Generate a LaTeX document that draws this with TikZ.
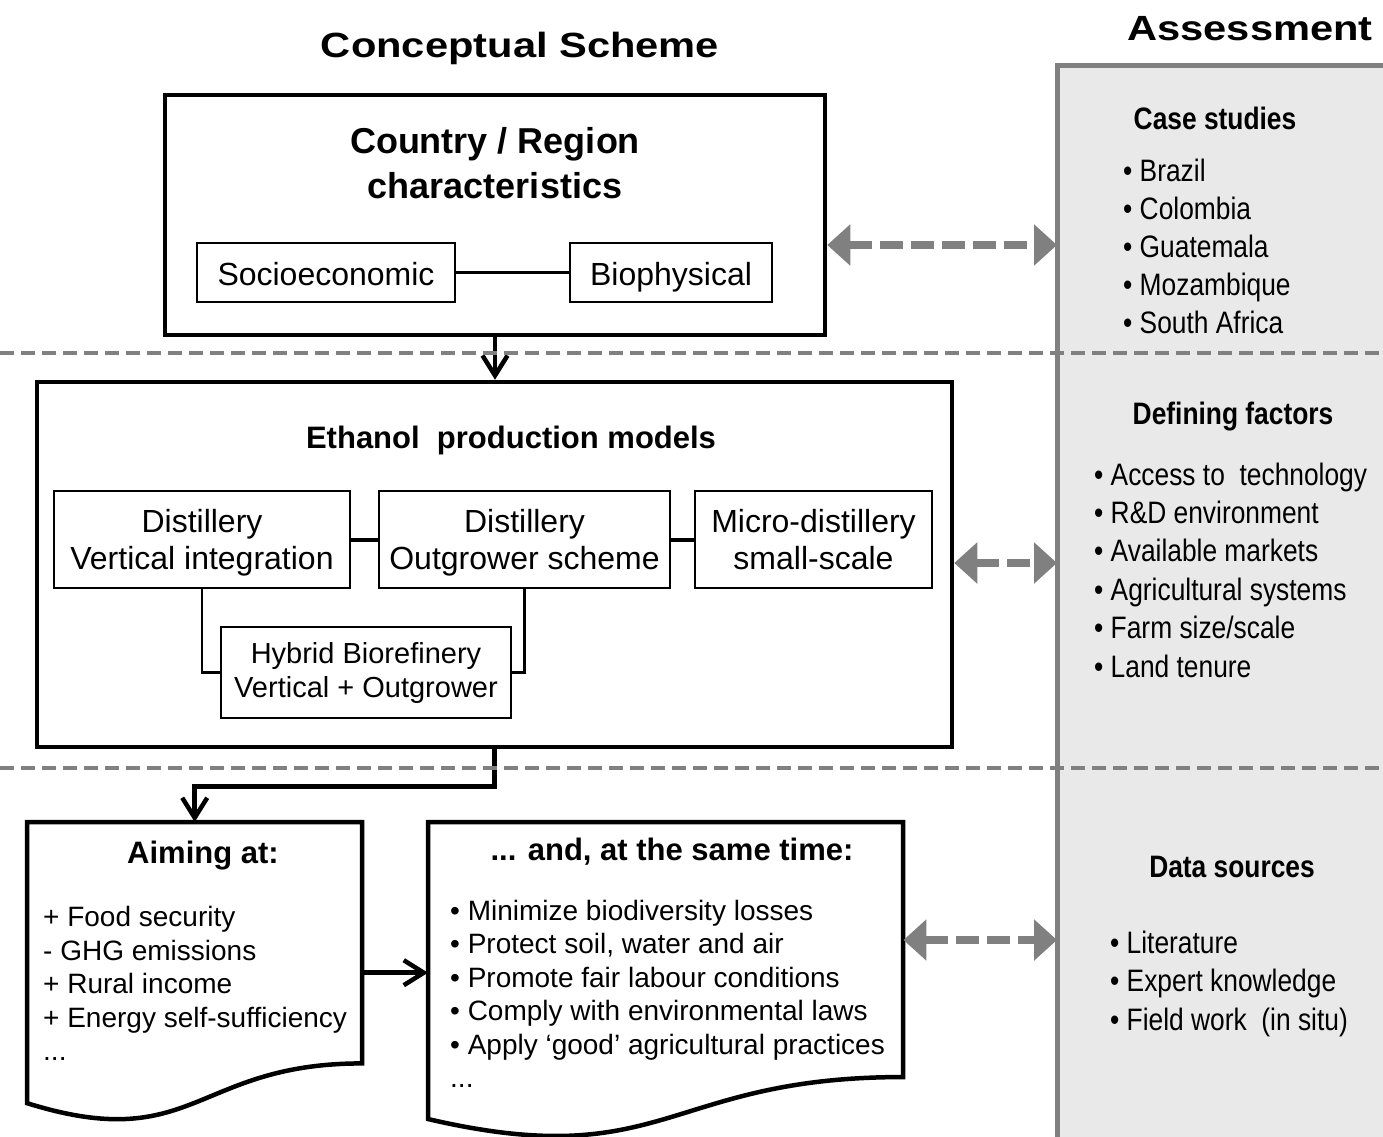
\documentclass[tikz,border=0pt]{standalone}
\usepackage{fontspec}
\setmainfont{Liberation Sans}
\newfontfamily\narrowfont{Liberation Sans}[FakeStretch=0.85]
\newfontfamily\widefont{Liberation Sans}[FakeStretch=1.19]
\usetikzlibrary{arrows.meta}
\definecolor{panelgray}{HTML}{E9E9E9}
\definecolor{rulegray}{HTML}{808080}
\newcommand{\docpath}[4]{(#1,#2) -- ({#1+#3},#2) -- ({#1+#3},{#2+0.802*#4}) .. controls ({#1+0.5*#3},{#2+0.802*#4}) and ({#1+0.5*#3},{#2+1.1075*#4}) .. (#1,{#2+0.934*#4}) -- cycle}

\begin{document}
\begin{tikzpicture}[x=1pt, y=-1pt]
    \tikzset{
        bigbox/.style={rectangle, draw, line width=4.5pt},
        subbox/.style={rectangle, draw, line width=2.7pt, align=center, inner sep=0pt, font=\fontsize{32}{37}\selectfont},
        docnode/.style={rectangle, inner sep=0pt},
        docline/.style={line width=4.5pt, line join=miter},
        maintitle/.style={inner sep=0pt, anchor=base, font=\widefont\bfseries\fontsize{35}{40}\selectfont},
        boxhead/.style={inner sep=0pt, anchor=base, font=\bfseries\fontsize{31}{36}\selectfont},
        listitem/.style={inner sep=0pt, anchor=base west, font=\fontsize{28}{33}\selectfont},
        panelhead/.style={inner sep=0pt, anchor=base, font=\narrowfont\bfseries\fontsize{31}{36}\selectfont},
        panelitem/.style={inner sep=0pt, anchor=base west, font=\narrowfont\fontsize{31}{36}\selectfont},
        flowarrow/.style={line width=4.5pt, -{Straight Barb[length=20pt, width=25pt, line width=4.5pt]}},
        tieline/.style={line width=2.7pt},
        gaplink/.style={rulegray, line width=8pt, dash pattern=on 23pt off 8pt, {Triangle[length=23pt, width=40pt]}-{Triangle[length=23pt, width=40pt]}},
        divider/.style={rulegray, line width=4.3pt, dash pattern=on 14pt off 7pt}
    }
    \useasboundingbox (0,0) rectangle (1383,1136);
    \begin{scope}
        \clip (0,0) rectangle (1383,1136);
        \node[rectangle, draw=rulegray, fill=panelgray, line width=5pt, outer sep=0pt, anchor=north west, minimum width=340pt, minimum height=1090pt] (assess) at (1057,65) {};
    \end{scope}

    \node[maintitle] (concept) at (520,57) {Conceptual Scheme};
    \node[maintitle] (assesstitle) at (1250,40) {Assessment};

    \node[bigbox, minimum width=660pt, minimum height=240pt] (region) at (495,215) {};
    \node[inner sep=0pt, anchor=north, align=center, font=\bfseries\fontsize{36}{45}\selectfont] (regiontitle) at (495,127) {Country / Region\\characteristics};
    \node[subbox, minimum width=258pt, minimum height=59pt, text height=25pt, text depth=0pt] (socio) at (326,272.5) {Socioeconomic};
    \node[subbox, minimum width=202pt, minimum height=59pt, text height=25pt, text depth=0pt] (bio) at (671,272.5) {Biophysical};
    \draw[tieline] (socio) -- (bio);

    \node[bigbox, minimum width=915pt, minimum height=365pt] (models) at (494.5,564.5) {};
    \node[boxhead] (modelstitle) at (511,448) {Ethanol\ \ production models};
    \node[subbox, minimum width=296pt, minimum height=97pt, text depth=0pt] (vertical) at (202,539.5) {Distillery\\Vertical integration};
    \node[subbox, minimum width=291pt, minimum height=97pt, text depth=0pt] (outgrower) at (524.5,539.5) {Distillery\\Outgrower scheme};
    \node[subbox, minimum width=237pt, minimum height=97pt] (micro) at (813.5,539.5) {Micro-distillery\\small-scale};
    \node[subbox, minimum width=290pt, minimum height=91pt, font=\fontsize{29}{34}\selectfont] (hybrid) at (366,672.5) {Hybrid Biorefinery\\Vertical + Outgrower};
    \draw[tieline, line width=4pt] (vertical) -- (outgrower);
    \draw[tieline, line width=4pt] (outgrower) -- (micro);
    \draw[tieline] (vertical.south) |- (hybrid.west);
    \draw[tieline] (outgrower.south) |- (hybrid.east);

    \node[docnode, minimum width=335pt, minimum height=301pt, anchor=north west] (aim) at (27,822) {};
    \draw[docline] \docpath{27}{822}{335}{301};
    \node[boxhead] (aimtitle) at (203,863) {Aiming at:};
    \foreach \t [count=\i from 0] in {+ Food security, - GHG emissions, + Rural income, + Energy self-sufficiency}
        \node[listitem] (aim\i) at (43,926.5+33.5*\i) {\t};
    \node[listitem] (aimmore) at (43,1060.5) {...};

    \node[docnode, minimum width=475pt, minimum height=318pt, anchor=north west] (same) at (428,822) {};
    \draw[docline] \docpath{428}{822}{475}{318};
    \node[boxhead] (sametitle) at (672,860) {... and, at the same time:};
    \foreach \t [count=\i from 0] in {Minimize biodiversity losses, {Protect soil, water and air}, Promote fair labour conditions, Comply with environmental laws, Apply ‘good’ agricultural practices}
        \node[listitem] (same\i) at (450,920+33.5*\i) {• \t};
    \node[listitem] (samemore) at (450,1087.5) {...};

    \draw[flowarrow] (region.south) -- (region.south |- models.north);
    \draw[flowarrow] (models.south) -- ++(0,37) -| (aim.north);
    \draw[flowarrow] (aim.east) -- (aim.east -| same.west);

    \coordinate (lvlA) at (0,245);
    \coordinate (lvlB) at (0,563);
    \coordinate (lvlC) at (0,940);
    \draw[gaplink] (region.east |- lvlA) -- (assess.west |- lvlA);
    \draw[gaplink] (models.east |- lvlB) -- (assess.west |- lvlB);
    \draw[gaplink] (same.east |- lvlC) -- (assess.west |- lvlC);

    \draw[divider] (0,353) -- (1383,353);
    \draw[divider] (0,768) -- (1383,768);

    \node[panelhead] (casehead) at (1215,129) {Case studies};
    \foreach \t [count=\i from 0] in {Brazil, Colombia, Guatemala, Mozambique, South Africa}
        \node[panelitem] (case\i) at (1123,181+38*\i) {• \t};
    \node[panelhead] (factorhead) at (1233,424) {Defining factors};
    \foreach \t [count=\i from 0] in {Access to\ \ technology, R\&D environment, Available markets, Agricultural systems, Farm size/scale, Land tenure}
        \node[panelitem] (factor\i) at (1094,485+38.4*\i) {• \t};
    \node[panelhead] (datahead) at (1232,877) {Data sources};
    \foreach \t [count=\i from 0] in {Literature, Expert knowledge, Field work\ \ (in situ)}
        \node[panelitem] (data\i) at (1110,953+38.5*\i) {• \t};
\end{tikzpicture}
\end{document}
